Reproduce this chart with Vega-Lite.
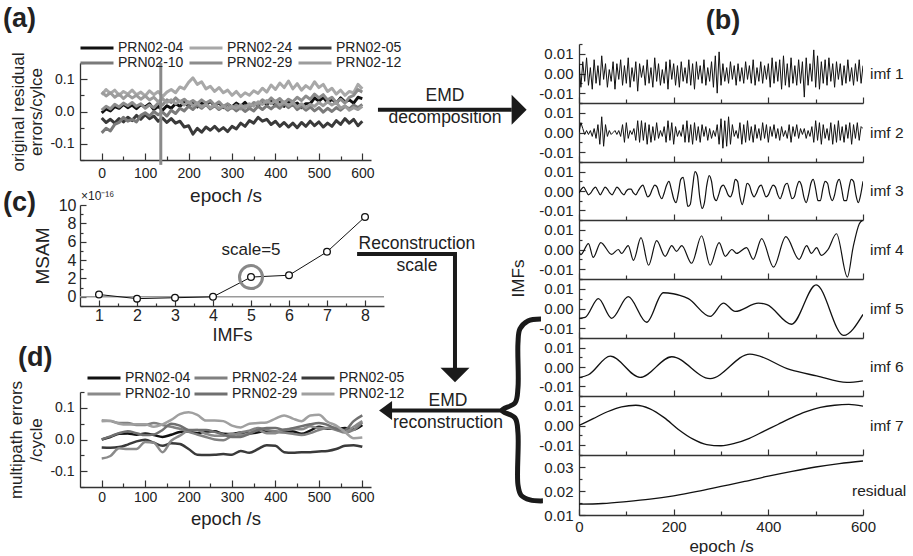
{
"$schema":"https://vega.github.io/schema/vega-lite/v6.json",
"autosize":{"type":"pad"},
"padding":{"left":3,"top":5,"right":0,"bottom":0},
"background":"white",
"config":{
 "font":"Liberation Sans",
 "view":{"stroke":null},
 "axis":{"grid":false,"domainColor":"#333","domainWidth":1.3,"tickColor":"#333","tickWidth":1.2,"labelColor":"#222","titleColor":"#222","titleFontWeight":"normal","labelFlush":false,"labelOverlap":false,"labelFontSize":15},
 "legend":{"labelColor":"#222"},
 "title":{"fontWeight":"bold","fontSize":27,"color":"#222","anchor":"start","frame":"group"},
 "line":{"strokeJoin":"round"}
},
"datasets":{
"a":[
{"s":"04","t":0,"v":-0.004},{"s":"04","t":10,"v":0.008},{"s":"04","t":20,"v":0.002},{"s":"04","t":30,"v":0.015},{"s":"04","t":40,"v":0.01},{"s":"04","t":50,"v":0.022},{"s":"04","t":60,"v":0.012},{"s":"04","t":70,"v":0.02},{"s":"04","t":80,"v":0.009},{"s":"04","t":90,"v":0.021},
{"s":"04","t":100,"v":0.014},{"s":"04","t":110,"v":0.024},{"s":"04","t":120,"v":0.006},{"s":"04","t":130,"v":0.016},{"s":"04","t":140,"v":0.004},{"s":"04","t":150,"v":0.018},{"s":"04","t":160,"v":0.01},{"s":"04","t":170,"v":0.024},{"s":"04","t":180,"v":0.016},{"s":"04","t":190,"v":0.028},
{"s":"04","t":200,"v":0.018},{"s":"04","t":210,"v":0.026},{"s":"04","t":220,"v":0.014},{"s":"04","t":230,"v":0.028},{"s":"04","t":240,"v":0.02},{"s":"04","t":250,"v":0.032},{"s":"04","t":260,"v":0.018},{"s":"04","t":270,"v":0.027},{"s":"04","t":280,"v":0.012},{"s":"04","t":290,"v":0.022},
{"s":"04","t":300,"v":0.014},{"s":"04","t":310,"v":0.026},{"s":"04","t":320,"v":0.016},{"s":"04","t":330,"v":0.028},{"s":"04","t":340,"v":0.014},{"s":"04","t":350,"v":0.025},{"s":"04","t":360,"v":0.018},{"s":"04","t":370,"v":0.032},{"s":"04","t":380,"v":0.022},{"s":"04","t":390,"v":0.034},
{"s":"04","t":400,"v":0.018},{"s":"04","t":410,"v":0.028},{"s":"04","t":420,"v":0.016},{"s":"04","t":430,"v":0.032},{"s":"04","t":440,"v":0.02},{"s":"04","t":450,"v":0.026},{"s":"04","t":460,"v":0.012},{"s":"04","t":470,"v":0.024},{"s":"04","t":480,"v":0.024},{"s":"04","t":490,"v":0.042},
{"s":"04","t":500,"v":0.032},{"s":"04","t":510,"v":0.044},{"s":"04","t":520,"v":0.028},{"s":"04","t":530,"v":0.038},{"s":"04","t":540,"v":0.026},{"s":"04","t":550,"v":0.042},{"s":"04","t":560,"v":0.03},{"s":"04","t":570,"v":0.036},{"s":"04","t":580,"v":0.026},{"s":"04","t":590,"v":0.044},{"s":"04","t":600,"v":0.04},
{"s":"24","t":0,"v":0.052},{"s":"24","t":10,"v":0.068},{"s":"24","t":20,"v":0.056},{"s":"24","t":30,"v":0.066},{"s":"24","t":40,"v":0.05},{"s":"24","t":50,"v":0.062},{"s":"24","t":60,"v":0.054},{"s":"24","t":70,"v":0.066},{"s":"24","t":80,"v":0.052},{"s":"24","t":90,"v":0.06},
{"s":"24","t":100,"v":0.048},{"s":"24","t":110,"v":0.064},{"s":"24","t":120,"v":0.052},{"s":"24","t":130,"v":0.062},{"s":"24","t":140,"v":0.046},{"s":"24","t":150,"v":0.06},{"s":"24","t":160,"v":0.068},{"s":"24","t":170,"v":0.058},{"s":"24","t":180,"v":0.076},{"s":"24","t":190,"v":0.07},
{"s":"24","t":200,"v":0.09},{"s":"24","t":210,"v":0.104},{"s":"24","t":220,"v":0.084},{"s":"24","t":230,"v":0.092},{"s":"24","t":240,"v":0.07},{"s":"24","t":250,"v":0.078},{"s":"24","t":260,"v":0.062},{"s":"24","t":270,"v":0.074},{"s":"24","t":280,"v":0.058},{"s":"24","t":290,"v":0.066},
{"s":"24","t":300,"v":0.05},{"s":"24","t":310,"v":0.062},{"s":"24","t":320,"v":0.046},{"s":"24","t":330,"v":0.058},{"s":"24","t":340,"v":0.05},{"s":"24","t":350,"v":0.064},{"s":"24","t":360,"v":0.056},{"s":"24","t":370,"v":0.072},{"s":"24","t":380,"v":0.06},{"s":"24","t":390,"v":0.082},
{"s":"24","t":400,"v":0.068},{"s":"24","t":410,"v":0.088},{"s":"24","t":420,"v":0.074},{"s":"24","t":430,"v":0.094},{"s":"24","t":440,"v":0.07},{"s":"24","t":450,"v":0.086},{"s":"24","t":460,"v":0.066},{"s":"24","t":470,"v":0.08},{"s":"24","t":480,"v":0.07},{"s":"24","t":490,"v":0.092},
{"s":"24","t":500,"v":0.074},{"s":"24","t":510,"v":0.084},{"s":"24","t":520,"v":0.062},{"s":"24","t":530,"v":0.072},{"s":"24","t":540,"v":0.054},{"s":"24","t":550,"v":0.066},{"s":"24","t":560,"v":0.05},{"s":"24","t":570,"v":0.062},{"s":"24","t":580,"v":0.058},{"s":"24","t":590,"v":0.084},{"s":"24","t":600,"v":0.07},
{"s":"05","t":0,"v":-0.02},{"s":"05","t":10,"v":-0.034},{"s":"05","t":20,"v":-0.024},{"s":"05","t":30,"v":-0.036},{"s":"05","t":40,"v":-0.022},{"s":"05","t":50,"v":-0.032},{"s":"05","t":60,"v":-0.018},{"s":"05","t":70,"v":-0.028},{"s":"05","t":80,"v":-0.012},{"s":"05","t":90,"v":-0.024},
{"s":"05","t":100,"v":-0.01},{"s":"05","t":110,"v":-0.022},{"s":"05","t":120,"v":-0.014},{"s":"05","t":130,"v":-0.03},{"s":"05","t":140,"v":-0.02},{"s":"05","t":150,"v":-0.034},{"s":"05","t":160,"v":-0.022},{"s":"05","t":170,"v":-0.036},{"s":"05","t":180,"v":-0.03},{"s":"05","t":190,"v":-0.048},
{"s":"05","t":200,"v":-0.044},{"s":"05","t":210,"v":-0.07},{"s":"05","t":220,"v":-0.052},{"s":"05","t":230,"v":-0.064},{"s":"05","t":240,"v":-0.048},{"s":"05","t":250,"v":-0.058},{"s":"05","t":260,"v":-0.046},{"s":"05","t":270,"v":-0.06},{"s":"05","t":280,"v":-0.05},{"s":"05","t":290,"v":-0.062},
{"s":"05","t":300,"v":-0.046},{"s":"05","t":310,"v":-0.054},{"s":"05","t":320,"v":-0.036},{"s":"05","t":330,"v":-0.046},{"s":"05","t":340,"v":-0.028},{"s":"05","t":350,"v":-0.036},{"s":"05","t":360,"v":-0.018},{"s":"05","t":370,"v":-0.03},{"s":"05","t":380,"v":-0.024},{"s":"05","t":390,"v":-0.04},
{"s":"05","t":400,"v":-0.03},{"s":"05","t":410,"v":-0.046},{"s":"05","t":420,"v":-0.034},{"s":"05","t":430,"v":-0.048},{"s":"05","t":440,"v":-0.036},{"s":"05","t":450,"v":-0.05},{"s":"05","t":460,"v":-0.034},{"s":"05","t":470,"v":-0.046},{"s":"05","t":480,"v":-0.03},{"s":"05","t":490,"v":-0.044},
{"s":"05","t":500,"v":-0.032},{"s":"05","t":510,"v":-0.048},{"s":"05","t":520,"v":-0.036},{"s":"05","t":530,"v":-0.046},{"s":"05","t":540,"v":-0.028},{"s":"05","t":550,"v":-0.04},{"s":"05","t":560,"v":-0.022},{"s":"05","t":570,"v":-0.036},{"s":"05","t":580,"v":-0.024},{"s":"05","t":590,"v":-0.044},{"s":"05","t":600,"v":-0.03},
{"s":"10","t":0,"v":-0.066},{"s":"10","t":10,"v":-0.052},{"s":"10","t":20,"v":-0.06},{"s":"10","t":30,"v":-0.04},{"s":"10","t":40,"v":-0.034},{"s":"10","t":50,"v":-0.018},{"s":"10","t":60,"v":-0.03},{"s":"10","t":70,"v":-0.024},{"s":"10","t":80,"v":-0.032},{"s":"10","t":90,"v":-0.012},
{"s":"10","t":100,"v":-0.004},{"s":"10","t":110,"v":-0.014},{"s":"10","t":120,"v":0},{"s":"10","t":130,"v":-0.01},{"s":"10","t":140,"v":-0.002},{"s":"10","t":150,"v":-0.014},{"s":"10","t":160,"v":0.004},{"s":"10","t":170,"v":-0.006},{"s":"10","t":180,"v":0.01},{"s":"10","t":190,"v":0.002},
{"s":"10","t":200,"v":0.016},{"s":"10","t":210,"v":0.006},{"s":"10","t":220,"v":0.02},{"s":"10","t":230,"v":0.01},{"s":"10","t":240,"v":0.022},{"s":"10","t":250,"v":0.008},{"s":"10","t":260,"v":0.018},{"s":"10","t":270,"v":0.006},{"s":"10","t":280,"v":0.016},{"s":"10","t":290,"v":0.004},
{"s":"10","t":300,"v":0.014},{"s":"10","t":310,"v":0.002},{"s":"10","t":320,"v":0.012},{"s":"10","t":330,"v":0},{"s":"10","t":340,"v":0.01},{"s":"10","t":350,"v":0.002},{"s":"10","t":360,"v":0.016},{"s":"10","t":370,"v":0.006},{"s":"10","t":380,"v":0.018},{"s":"10","t":390,"v":0.008},
{"s":"10","t":400,"v":0.02},{"s":"10","t":410,"v":0.01},{"s":"10","t":420,"v":0.024},{"s":"10","t":430,"v":0.012},{"s":"10","t":440,"v":0.022},{"s":"10","t":450,"v":0.006},{"s":"10","t":460,"v":0.016},{"s":"10","t":470,"v":0.004},{"s":"10","t":480,"v":0.014},{"s":"10","t":490,"v":0.002},
{"s":"10","t":500,"v":0.012},{"s":"10","t":510,"v":-0.002},{"s":"10","t":520,"v":0.01},{"s":"10","t":530,"v":0},{"s":"10","t":540,"v":0.012},{"s":"10","t":550,"v":0.004},{"s":"10","t":560,"v":0.016},{"s":"10","t":570,"v":0.008},{"s":"10","t":580,"v":0.02},{"s":"10","t":590,"v":0.012},{"s":"10","t":600,"v":0.022},
{"s":"29","t":0,"v":0.004},{"s":"29","t":10,"v":0.016},{"s":"29","t":20,"v":0.008},{"s":"29","t":30,"v":0.022},{"s":"29","t":40,"v":0.014},{"s":"29","t":50,"v":0.026},{"s":"29","t":60,"v":0.018},{"s":"29","t":70,"v":0.028},{"s":"29","t":80,"v":0.016},{"s":"29","t":90,"v":0.024},
{"s":"29","t":100,"v":0.01},{"s":"29","t":110,"v":0.02},{"s":"29","t":120,"v":0.012},{"s":"29","t":130,"v":0.026},{"s":"29","t":140,"v":0.02},{"s":"29","t":150,"v":0.036},{"s":"29","t":160,"v":0.028},{"s":"29","t":170,"v":0.042},{"s":"29","t":180,"v":0.03},{"s":"29","t":190,"v":0.038},
{"s":"29","t":200,"v":0.026},{"s":"29","t":210,"v":0.034},{"s":"29","t":220,"v":0.024},{"s":"29","t":230,"v":0.036},{"s":"29","t":240,"v":0.026},{"s":"29","t":250,"v":0.034},{"s":"29","t":260,"v":0.02},{"s":"29","t":270,"v":0.03},{"s":"29","t":280,"v":0.016},{"s":"29","t":290,"v":0.024},
{"s":"29","t":300,"v":0.01},{"s":"29","t":310,"v":0.02},{"s":"29","t":320,"v":0.008},{"s":"29","t":330,"v":0.018},{"s":"29","t":340,"v":0.014},{"s":"29","t":350,"v":0.028},{"s":"29","t":360,"v":0.022},{"s":"29","t":370,"v":0.036},{"s":"29","t":380,"v":0.028},{"s":"29","t":390,"v":0.042},
{"s":"29","t":400,"v":0.03},{"s":"29","t":410,"v":0.04},{"s":"29","t":420,"v":0.026},{"s":"29","t":430,"v":0.038},{"s":"29","t":440,"v":0.03},{"s":"29","t":450,"v":0.044},{"s":"29","t":460,"v":0.034},{"s":"29","t":470,"v":0.048},{"s":"29","t":480,"v":0.038},{"s":"29","t":490,"v":0.054},
{"s":"29","t":500,"v":0.042},{"s":"29","t":510,"v":0.052},{"s":"29","t":520,"v":0.036},{"s":"29","t":530,"v":0.044},{"s":"29","t":540,"v":0.028},{"s":"29","t":550,"v":0.038},{"s":"29","t":560,"v":0.026},{"s":"29","t":570,"v":0.044},{"s":"29","t":580,"v":0.05},{"s":"29","t":590,"v":0.068},{"s":"29","t":600,"v":0.06},
{"s":"12","t":0,"v":0.06},{"s":"12","t":10,"v":0.048},{"s":"12","t":20,"v":0.058},{"s":"12","t":30,"v":0.044},{"s":"12","t":40,"v":0.054},{"s":"12","t":50,"v":0.04},{"s":"12","t":60,"v":0.052},{"s":"12","t":70,"v":0.042},{"s":"12","t":80,"v":0.05},{"s":"12","t":90,"v":0.038},
{"s":"12","t":100,"v":0.048},{"s":"12","t":110,"v":0.036},{"s":"12","t":120,"v":0.044},{"s":"12","t":130,"v":0.03},{"s":"12","t":140,"v":0.04},{"s":"12","t":150,"v":0.028},{"s":"12","t":160,"v":0.036},{"s":"12","t":170,"v":0.024},{"s":"12","t":180,"v":0.032},{"s":"12","t":190,"v":0.02},
{"s":"12","t":200,"v":0.03},{"s":"12","t":210,"v":0.018},{"s":"12","t":220,"v":0.026},{"s":"12","t":230,"v":0.014},{"s":"12","t":240,"v":0.022},{"s":"12","t":250,"v":0.012},{"s":"12","t":260,"v":0.02},{"s":"12","t":270,"v":0.01},{"s":"12","t":280,"v":0.018},{"s":"12","t":290,"v":0.008},
{"s":"12","t":300,"v":0.016},{"s":"12","t":310,"v":0.01},{"s":"12","t":320,"v":0.02},{"s":"12","t":330,"v":0.012},{"s":"12","t":340,"v":0.024},{"s":"12","t":350,"v":0.016},{"s":"12","t":360,"v":0.03},{"s":"12","t":370,"v":0.022},{"s":"12","t":380,"v":0.034},{"s":"12","t":390,"v":0.024},
{"s":"12","t":400,"v":0.032},{"s":"12","t":410,"v":0.02},{"s":"12","t":420,"v":0.03},{"s":"12","t":430,"v":0.018},{"s":"12","t":440,"v":0.028},{"s":"12","t":450,"v":0.014},{"s":"12","t":460,"v":0.024},{"s":"12","t":470,"v":0.012},{"s":"12","t":480,"v":0.022},{"s":"12","t":490,"v":0.016},
{"s":"12","t":500,"v":0.028},{"s":"12","t":510,"v":0.018},{"s":"12","t":520,"v":0.03},{"s":"12","t":530,"v":0.02},{"s":"12","t":540,"v":0.028},{"s":"12","t":550,"v":0.01},{"s":"12","t":560,"v":0.018},{"s":"12","t":570,"v":0.004},{"s":"12","t":580,"v":0.012},{"s":"12","t":590,"v":0.006},{"s":"12","t":600,"v":0.016}
],
"d":[
{"s":"04","t":0,"v":0},{"s":"04","t":20,"v":0.008},{"s":"04","t":40,"v":0.018},{"s":"04","t":60,"v":0.019},{"s":"04","t":80,"v":0.015},{"s":"04","t":100,"v":0.019},{"s":"04","t":120,"v":0.014},{"s":"04","t":140,"v":0.008},{"s":"04","t":160,"v":0.015},{"s":"04","t":180,"v":0.024},{"s":"04","t":200,"v":0.025},{"s":"04","t":220,"v":0.02},{"s":"04","t":240,"v":0.025},{"s":"04","t":260,"v":0.026},{"s":"04","t":280,"v":0.018},{"s":"04","t":300,"v":0.017},{"s":"04","t":320,"v":0.022},{"s":"04","t":340,"v":0.019},{"s":"04","t":360,"v":0.023},{"s":"04","t":380,"v":0.028},{"s":"04","t":400,"v":0.024},{"s":"04","t":420,"v":0.024},{"s":"04","t":440,"v":0.025},{"s":"04","t":460,"v":0.018},{"s":"04","t":480,"v":0.028},{"s":"04","t":500,"v":0.04},{"s":"04","t":520,"v":0.034},{"s":"04","t":540,"v":0.034},{"s":"04","t":560,"v":0.036},{"s":"04","t":580,"v":0.032},{"s":"04","t":600,"v":0.046},
{"s":"24","t":0,"v":0.06},{"s":"24","t":20,"v":0.058},{"s":"24","t":40,"v":0.052},{"s":"24","t":60,"v":0.052},{"s":"24","t":80,"v":0.046},{"s":"24","t":100,"v":0.046},{"s":"24","t":120,"v":0.052},{"s":"24","t":140,"v":0.046},{"s":"24","t":160,"v":0.04},{"s":"24","t":180,"v":0.034},{"s":"24","t":200,"v":0.024},{"s":"24","t":220,"v":0.016},{"s":"24","t":240,"v":0.008},{"s":"24","t":260,"v":0},{"s":"24","t":280,"v":-0.002},{"s":"24","t":300,"v":0.012},{"s":"24","t":320,"v":0.022},{"s":"24","t":340,"v":0.028},{"s":"24","t":360,"v":0.036},{"s":"24","t":380,"v":0.03},{"s":"24","t":400,"v":0.026},{"s":"24","t":420,"v":0.022},{"s":"24","t":440,"v":0.018},{"s":"24","t":460,"v":0.014},{"s":"24","t":480,"v":0.02},{"s":"24","t":500,"v":0.03},{"s":"24","t":520,"v":0.036},{"s":"24","t":540,"v":0.03},{"s":"24","t":560,"v":0.022},{"s":"24","t":580,"v":0.03},{"s":"24","t":600,"v":0.054},
{"s":"05","t":0,"v":-0.025},{"s":"05","t":20,"v":-0.026},{"s":"05","t":40,"v":-0.024},{"s":"05","t":60,"v":-0.016},{"s":"05","t":80,"v":-0.006},{"s":"05","t":100,"v":-0.001},{"s":"05","t":120,"v":-0.01},{"s":"05","t":140,"v":-0.02},{"s":"05","t":160,"v":-0.012},{"s":"05","t":180,"v":-0.014},{"s":"05","t":200,"v":-0.03},{"s":"05","t":220,"v":-0.048},{"s":"05","t":240,"v":-0.049},{"s":"05","t":260,"v":-0.048},{"s":"05","t":280,"v":-0.046},{"s":"05","t":300,"v":-0.048},{"s":"05","t":320,"v":-0.036},{"s":"05","t":340,"v":-0.042},{"s":"05","t":360,"v":-0.03},{"s":"05","t":380,"v":-0.018},{"s":"05","t":400,"v":-0.02},{"s":"05","t":420,"v":-0.04},{"s":"05","t":440,"v":-0.042},{"s":"05","t":460,"v":-0.04},{"s":"05","t":480,"v":-0.04},{"s":"05","t":500,"v":-0.038},{"s":"05","t":520,"v":-0.036},{"s":"05","t":540,"v":-0.03},{"s":"05","t":560,"v":-0.02},{"s":"05","t":580,"v":-0.018},{"s":"05","t":600,"v":-0.023},
{"s":"10","t":0,"v":-0.06},{"s":"10","t":20,"v":-0.052},{"s":"10","t":40,"v":-0.028},{"s":"10","t":60,"v":-0.03},{"s":"10","t":80,"v":-0.03},{"s":"10","t":100,"v":-0.008},{"s":"10","t":120,"v":-0.01},{"s":"10","t":140,"v":-0.04},{"s":"10","t":160,"v":-0.004},{"s":"10","t":180,"v":0.012},{"s":"10","t":200,"v":0.028},{"s":"10","t":220,"v":0.03},{"s":"10","t":240,"v":0.018},{"s":"10","t":260,"v":0.012},{"s":"10","t":280,"v":0.012},{"s":"10","t":300,"v":0.018},{"s":"10","t":320,"v":0.014},{"s":"10","t":340,"v":0.02},{"s":"10","t":360,"v":0.03},{"s":"10","t":380,"v":0.02},{"s":"10","t":400,"v":0.02},{"s":"10","t":420,"v":0.032},{"s":"10","t":440,"v":0.034},{"s":"10","t":460,"v":0.032},{"s":"10","t":480,"v":0.042},{"s":"10","t":500,"v":0.036},{"s":"10","t":520,"v":0.036},{"s":"10","t":540,"v":0.038},{"s":"10","t":560,"v":0.024},{"s":"10","t":580,"v":0.04},{"s":"10","t":600,"v":0.058},
{"s":"29","t":0,"v":0},{"s":"29","t":20,"v":0.01},{"s":"29","t":40,"v":0.02},{"s":"29","t":60,"v":0.026},{"s":"29","t":80,"v":0.02},{"s":"29","t":100,"v":0.014},{"s":"29","t":120,"v":0.016},{"s":"29","t":140,"v":0.03},{"s":"29","t":160,"v":0.05},{"s":"29","t":180,"v":0.044},{"s":"29","t":200,"v":0.03},{"s":"29","t":220,"v":0.03},{"s":"29","t":240,"v":0.03},{"s":"29","t":260,"v":0.024},{"s":"29","t":280,"v":0.016},{"s":"29","t":300,"v":0.008},{"s":"29","t":320,"v":0.008},{"s":"29","t":340,"v":0.018},{"s":"29","t":360,"v":0.03},{"s":"29","t":380,"v":0.036},{"s":"29","t":400,"v":0.036},{"s":"29","t":420,"v":0.03},{"s":"29","t":440,"v":0.036},{"s":"29","t":460,"v":0.042},{"s":"29","t":480,"v":0.048},{"s":"29","t":500,"v":0.052},{"s":"29","t":520,"v":0.046},{"s":"29","t":540,"v":0.034},{"s":"29","t":560,"v":0.03},{"s":"29","t":580,"v":0.058},{"s":"29","t":600,"v":0.076},
{"s":"12","t":0,"v":0.058},{"s":"12","t":20,"v":0.059},{"s":"12","t":40,"v":0.05},{"s":"12","t":60,"v":0.047},{"s":"12","t":80,"v":0.048},{"s":"12","t":100,"v":0.048},{"s":"12","t":120,"v":0.04},{"s":"12","t":140,"v":0.048},{"s":"12","t":160,"v":0.062},{"s":"12","t":180,"v":0.08},{"s":"12","t":200,"v":0.086},{"s":"12","t":220,"v":0.078},{"s":"12","t":240,"v":0.06},{"s":"12","t":260,"v":0.06},{"s":"12","t":280,"v":0.058},{"s":"12","t":300,"v":0.044},{"s":"12","t":320,"v":0.038},{"s":"12","t":340,"v":0.05},{"s":"12","t":360,"v":0.052},{"s":"12","t":380,"v":0.054},{"s":"12","t":400,"v":0.066},{"s":"12","t":420,"v":0.076},{"s":"12","t":440,"v":0.066},{"s":"12","t":460,"v":0.058},{"s":"12","t":480,"v":0.076},{"s":"12","t":500,"v":0.078},{"s":"12","t":520,"v":0.056},{"s":"12","t":540,"v":0.044},{"s":"12","t":560,"v":0.024},{"s":"12","t":580,"v":0.004},{"s":"12","t":600,"v":0.006}
],
"c":[{"k":1,"m":0.25},{"k":2,"m":-0.2},{"k":3,"m":-0.1},{"k":4,"m":0},{"k":5,"m":2.15},{"k":6,"m":2.35},{"k":7,"m":4.9},{"k":8,"m":8.7}],
"i1":[
{"t":0,"v":0.005},{"t":4,"v":-0.007},{"t":8,"v":0.006},{"t":12,"v":-0.004},{"t":16,"v":0.008},{"t":20,"v":-0.006},{"t":24,"v":0.003},{"t":28,"v":-0.008},{"t":32,"v":0.007},{"t":36,"v":-0.005},
{"t":40,"v":0.004},{"t":44,"v":-0.006},{"t":48,"v":0.009},{"t":52,"v":-0.003},{"t":56,"v":0.005},{"t":60,"v":-0.007},{"t":64,"v":0.002},{"t":68,"v":-0.004},{"t":72,"v":0.006},{"t":76,"v":-0.008},
{"t":80,"v":0.005},{"t":84,"v":-0.003},{"t":88,"v":0.007},{"t":92,"v":-0.006},{"t":96,"v":0.004},{"t":100,"v":-0.005},{"t":104,"v":0.008},{"t":108,"v":-0.007},{"t":112,"v":0.003},{"t":116,"v":-0.004},
{"t":120,"v":0.006},{"t":124,"v":-0.009},{"t":128,"v":0.005},{"t":132,"v":-0.002},{"t":136,"v":0.004},{"t":140,"v":-0.006},{"t":144,"v":0.007},{"t":148,"v":-0.005},{"t":152,"v":0.003},{"t":156,"v":-0.007},
{"t":160,"v":0.008},{"t":164,"v":-0.004},{"t":168,"v":0.005},{"t":172,"v":-0.006},{"t":176,"v":0.002},{"t":180,"v":-0.005},{"t":184,"v":0.006},{"t":188,"v":-0.008},{"t":192,"v":0.007},{"t":196,"v":-0.003},
{"t":200,"v":0.005},{"t":204,"v":-0.006},{"t":208,"v":0.004},{"t":212,"v":-0.007},{"t":216,"v":0.006},{"t":220,"v":-0.004},{"t":224,"v":0.003},{"t":228,"v":-0.005},{"t":232,"v":0.007},{"t":236,"v":-0.006},
{"t":240,"v":0.005},{"t":244,"v":-0.008},{"t":248,"v":0.006},{"t":252,"v":-0.003},{"t":256,"v":0.004},{"t":260,"v":-0.005},{"t":264,"v":0.007},{"t":268,"v":-0.006},{"t":272,"v":0.003},{"t":276,"v":-0.004},
{"t":280,"v":0.006},{"t":284,"v":-0.007},{"t":288,"v":0.009},{"t":292,"v":-0.01},{"t":296,"v":0.011},{"t":300,"v":-0.006},{"t":304,"v":0.005},{"t":308,"v":-0.004},{"t":312,"v":0.003},{"t":316,"v":-0.005},
{"t":320,"v":0.006},{"t":324,"v":-0.003},{"t":328,"v":0.004},{"t":332,"v":-0.006},{"t":336,"v":0.005},{"t":340,"v":-0.004},{"t":344,"v":0.003},{"t":348,"v":-0.005},{"t":352,"v":0.006},{"t":356,"v":-0.003},
{"t":360,"v":0.004},{"t":364,"v":-0.005},{"t":368,"v":0.007},{"t":372,"v":-0.006},{"t":376,"v":0.003},{"t":380,"v":-0.004},{"t":384,"v":0.006},{"t":388,"v":-0.005},{"t":392,"v":0.004},{"t":396,"v":-0.003},
{"t":400,"v":0.005},{"t":404,"v":-0.007},{"t":408,"v":0.008},{"t":412,"v":-0.005},{"t":416,"v":0.006},{"t":420,"v":-0.004},{"t":424,"v":0.007},{"t":428,"v":-0.008},{"t":432,"v":0.009},{"t":436,"v":-0.006},
{"t":440,"v":0.005},{"t":444,"v":-0.007},{"t":448,"v":0.008},{"t":452,"v":-0.005},{"t":456,"v":0.004},{"t":460,"v":-0.006},{"t":464,"v":0.007},{"t":468,"v":-0.005},{"t":472,"v":0.006},{"t":476,"v":-0.012},
{"t":480,"v":0.008},{"t":484,"v":-0.006},{"t":488,"v":0.005},{"t":492,"v":-0.004},{"t":496,"v":0.012},{"t":500,"v":-0.007},{"t":504,"v":0.009},{"t":508,"v":-0.008},{"t":512,"v":0.006},{"t":516,"v":-0.005},
{"t":520,"v":0.007},{"t":524,"v":-0.006},{"t":528,"v":0.008},{"t":532,"v":-0.004},{"t":536,"v":0.005},{"t":540,"v":-0.007},{"t":544,"v":0.006},{"t":548,"v":-0.003},{"t":552,"v":0.005},{"t":556,"v":-0.006},
{"t":560,"v":0.004},{"t":564,"v":-0.005},{"t":568,"v":0.007},{"t":572,"v":-0.004},{"t":576,"v":0.003},{"t":580,"v":-0.006},{"t":584,"v":0.005},{"t":588,"v":-0.004},{"t":592,"v":0.007},{"t":596,"v":-0.005},{"t":600,"v":0.004}
],
"i2":[
{"t":0,"v":0},{"t":4,"v":0.005},{"t":8,"v":0.002},{"t":12,"v":-0.001},{"t":16,"v":0.001},{"t":20,"v":-0.001},{"t":24,"v":0.001},{"t":28,"v":-0.002},{"t":32,"v":0.002},{"t":36,"v":-0.003},
{"t":40,"v":0.004},{"t":44,"v":-0.006},{"t":48,"v":0.008},{"t":52,"v":-0.007},{"t":56,"v":0.004},{"t":60,"v":-0.002},{"t":64,"v":0.001},{"t":68,"v":-0.001},{"t":72,"v":0},{"t":76,"v":0.001},
{"t":80,"v":-0.001},{"t":84,"v":0.001},{"t":88,"v":-0.002},{"t":92,"v":0.004},{"t":96,"v":-0.005},{"t":100,"v":0.005},{"t":104,"v":-0.003},{"t":108,"v":0.001},{"t":112,"v":-0.001},{"t":116,"v":0.002},
{"t":120,"v":-0.004},{"t":124,"v":0.006},{"t":128,"v":-0.005},{"t":132,"v":0.006},{"t":136,"v":-0.004},{"t":140,"v":0.005},{"t":144,"v":-0.006},{"t":148,"v":0.004},{"t":152,"v":-0.005},{"t":156,"v":0.003},
{"t":160,"v":-0.004},{"t":164,"v":0.005},{"t":168,"v":-0.003},{"t":172,"v":0.001},{"t":176,"v":-0.002},{"t":180,"v":0.003},{"t":184,"v":-0.005},{"t":188,"v":0.006},{"t":192,"v":-0.004},{"t":196,"v":0.005},
{"t":200,"v":-0.006},{"t":204,"v":0.003},{"t":208,"v":-0.002},{"t":212,"v":0.001},{"t":216,"v":-0.002},{"t":220,"v":0.004},{"t":224,"v":-0.005},{"t":228,"v":0.006},{"t":232,"v":-0.005},{"t":236,"v":0.004},
{"t":240,"v":-0.006},{"t":244,"v":0.005},{"t":248,"v":-0.004},{"t":252,"v":0.003},{"t":256,"v":-0.005},{"t":260,"v":0.004},{"t":264,"v":-0.002},{"t":268,"v":0.003},{"t":272,"v":-0.004},{"t":276,"v":0.002},
{"t":280,"v":-0.003},{"t":284,"v":0.001},{"t":288,"v":-0.002},{"t":292,"v":0.004},{"t":296,"v":-0.006},{"t":300,"v":0.007},{"t":304,"v":-0.008},{"t":308,"v":0.006},{"t":312,"v":-0.007},{"t":316,"v":0.008},
{"t":320,"v":-0.006},{"t":324,"v":0.004},{"t":328,"v":-0.002},{"t":332,"v":0.001},{"t":336,"v":-0.003},{"t":340,"v":0.005},{"t":344,"v":-0.006},{"t":348,"v":0.004},{"t":352,"v":-0.005},{"t":356,"v":0.006},
{"t":360,"v":-0.004},{"t":364,"v":0.003},{"t":368,"v":-0.005},{"t":372,"v":0.004},{"t":376,"v":-0.003},{"t":380,"v":0.002},{"t":384,"v":-0.004},{"t":388,"v":0.005},{"t":392,"v":-0.003},{"t":396,"v":0.004},
{"t":400,"v":-0.005},{"t":404,"v":0.003},{"t":408,"v":-0.002},{"t":412,"v":0.004},{"t":416,"v":-0.003},{"t":420,"v":0.002},{"t":424,"v":-0.004},{"t":428,"v":0.003},{"t":432,"v":-0.002},{"t":436,"v":0.001},
{"t":440,"v":-0.003},{"t":444,"v":0.004},{"t":448,"v":-0.005},{"t":452,"v":0.003},{"t":456,"v":-0.002},{"t":460,"v":0.004},{"t":464,"v":-0.003},{"t":468,"v":0.002},{"t":472,"v":-0.001},{"t":476,"v":0.002},
{"t":480,"v":-0.003},{"t":484,"v":0.001},{"t":488,"v":-0.002},{"t":492,"v":0.003},{"t":496,"v":-0.005},{"t":500,"v":0.006},{"t":504,"v":-0.004},{"t":508,"v":0.005},{"t":512,"v":-0.006},{"t":516,"v":0.004},
{"t":520,"v":-0.003},{"t":524,"v":0.002},{"t":528,"v":-0.004},{"t":532,"v":0.005},{"t":536,"v":-0.006},{"t":540,"v":0.004},{"t":544,"v":-0.005},{"t":548,"v":0.006},{"t":552,"v":-0.004},{"t":556,"v":0.003},
{"t":560,"v":-0.005},{"t":564,"v":0.004},{"t":568,"v":-0.003},{"t":572,"v":0.005},{"t":576,"v":-0.006},{"t":580,"v":0.004},{"t":584,"v":-0.003},{"t":588,"v":0.005},{"t":592,"v":-0.004},{"t":596,"v":0.003},{"t":600,"v":0.002}
],
"i3":[
{"t":0,"v":-0.001},{"t":5,"v":0.001},{"t":10,"v":0.002},{"t":15,"v":0},{"t":20,"v":-0.002},{"t":25,"v":-0.001},{"t":30,"v":0.001},{"t":35,"v":0.002},{"t":40,"v":0},{"t":45,"v":-0.002},
{"t":50,"v":0},{"t":55,"v":0.002},{"t":60,"v":0.001},{"t":65,"v":-0.001},{"t":70,"v":-0.002},{"t":75,"v":0},{"t":80,"v":0.002},{"t":85,"v":0.001},{"t":90,"v":-0.001},{"t":95,"v":-0.002},
{"t":100,"v":0},{"t":105,"v":0.001},{"t":110,"v":0.001},{"t":115,"v":-0.001},{"t":120,"v":-0.002},{"t":125,"v":0},{"t":130,"v":0.002},{"t":135,"v":0.003},{"t":140,"v":0},{"t":145,"v":-0.003},
{"t":150,"v":-0.002},{"t":155,"v":0.001},{"t":160,"v":0.003},{"t":165,"v":0.002},{"t":170,"v":-0.002},{"t":175,"v":-0.004},{"t":180,"v":-0.001},{"t":185,"v":0.003},{"t":190,"v":0.005},{"t":195,"v":0.001},
{"t":200,"v":-0.004},{"t":205,"v":-0.006},{"t":210,"v":-0.001},{"t":215,"v":0.006},{"t":220,"v":0.007},{"t":225,"v":0},{"t":230,"v":-0.008},{"t":235,"v":-0.007},{"t":240,"v":0.002},{"t":245,"v":0.01},
{"t":250,"v":0.008},{"t":255,"v":-0.003},{"t":260,"v":-0.009},{"t":265,"v":-0.006},{"t":270,"v":0.003},{"t":275,"v":0.008},{"t":280,"v":0.005},{"t":285,"v":-0.003},{"t":290,"v":-0.005},{"t":295,"v":-0.002},
{"t":300,"v":0.002},{"t":305,"v":0.003},{"t":310,"v":0.001},{"t":315,"v":-0.002},{"t":320,"v":-0.003},{"t":325,"v":0},{"t":330,"v":0.006},{"t":335,"v":0.005},{"t":340,"v":-0.003},{"t":345,"v":-0.007},
{"t":350,"v":-0.002},{"t":355,"v":0.004},{"t":360,"v":0.003},{"t":365,"v":-0.001},{"t":370,"v":-0.003},{"t":375,"v":-0.001},{"t":380,"v":0.002},{"t":385,"v":0.003},{"t":390,"v":0},{"t":395,"v":-0.003},
{"t":400,"v":-0.002},{"t":405,"v":0.001},{"t":410,"v":0.003},{"t":415,"v":0.002},{"t":420,"v":-0.002},{"t":425,"v":-0.004},{"t":430,"v":-0.001},{"t":435,"v":0.003},{"t":440,"v":0.004},{"t":445,"v":0},
{"t":450,"v":-0.004},{"t":455,"v":-0.003},{"t":460,"v":0.002},{"t":465,"v":0.005},{"t":470,"v":0.003},{"t":475,"v":-0.003},{"t":480,"v":-0.006},{"t":485,"v":-0.002},{"t":490,"v":0.004},{"t":495,"v":0.006},
{"t":500,"v":0.001},{"t":505,"v":-0.005},{"t":510,"v":-0.005},{"t":515,"v":0.001},{"t":520,"v":0.005},{"t":525,"v":0.004},{"t":530,"v":-0.002},{"t":535,"v":-0.005},{"t":540,"v":-0.002},{"t":545,"v":0.004},
{"t":550,"v":0.006},{"t":555,"v":0.001},{"t":560,"v":-0.005},{"t":565,"v":-0.005},{"t":570,"v":0.001},{"t":575,"v":0.006},{"t":580,"v":0.005},{"t":585,"v":-0.002},{"t":590,"v":-0.006},{"t":595,"v":-0.002},{"t":600,"v":0.005}
],
"i4":[{"t":0,"v":-0.001},{"t":4,"v":-0.0026},{"t":20,"v":0.003},{"t":30,"v":-0.004},{"t":46,"v":0.0035},{"t":69,"v":-0.0025},{"t":83,"v":0},{"t":90,"v":-0.002},{"t":104,"v":0.002},{"t":115,"v":-0.0055},{"t":131,"v":0.006},{"t":147,"v":-0.008},{"t":164,"v":0.0045},{"t":182,"v":-0.0035},{"t":196,"v":0.002},{"t":206,"v":-0.001},{"t":217,"v":0.002},{"t":238,"v":-0.007},{"t":259,"v":0.007},{"t":277,"v":-0.008},{"t":296,"v":0.0035},{"t":309,"v":-0.0035},{"t":323,"v":0},{"t":333,"v":-0.002},{"t":354,"v":0.001},{"t":368,"v":-0.005},{"t":386,"v":0.0055},{"t":411,"v":-0.009},{"t":437,"v":0.0065},{"t":465,"v":-0.005},{"t":481,"v":0.002},{"t":491,"v":-0.002},{"t":502,"v":0.001},{"t":512,"v":-0.003},{"t":526,"v":0},{"t":544,"v":0.008},{"t":567,"v":-0.014},{"t":579,"v":0.001},{"t":592,"v":0.013},{"t":600,"v":0.015}],
"i5":[{"t":0,"v":-0.005},{"t":13,"v":-0.0045},{"t":41,"v":0.005},{"t":69,"v":-0.005},{"t":104,"v":0.006},{"t":143,"v":-0.007},{"t":178,"v":0.008},{"t":199,"v":0.0075},{"t":213,"v":0.0067},{"t":231,"v":0.005},{"t":277,"v":-0.004},{"t":305,"v":0.0027},{"t":330,"v":-0.0015},{"t":379,"v":0.0027},{"t":397,"v":0.002},{"t":449,"v":-0.008},{"t":501,"v":0.012},{"t":559,"v":-0.0137},{"t":600,"v":-0.003}],
"i6":[{"t":0,"v":-0.0055},{"t":20,"v":-0.004},{"t":66,"v":0.0056},{"t":129,"v":-0.0054},{"t":196,"v":0.0053},{"t":277,"v":-0.006},{"t":361,"v":0.0067},{"t":446,"v":-0.0014},{"t":502,"v":-0.0046},{"t":566,"v":-0.008},{"t":600,"v":-0.0072}],
"i7":[{"t":0,"v":0},{"t":30,"v":0.0035},{"t":60,"v":0.007},{"t":90,"v":0.0095},{"t":120,"v":0.0103},{"t":150,"v":0.0085},{"t":180,"v":0.004},{"t":210,"v":-0.002},{"t":240,"v":-0.0068},{"t":270,"v":-0.0097},{"t":300,"v":-0.0103},{"t":330,"v":-0.009},{"t":360,"v":-0.0065},{"t":390,"v":-0.003},{"t":420,"v":0.0005},{"t":450,"v":0.004},{"t":480,"v":0.007},{"t":510,"v":0.0092},{"t":540,"v":0.0103},{"t":570,"v":0.0107},{"t":600,"v":0.0098}],
"res":[{"t":0,"v":0.0145},{"t":50,"v":0.0148},{"t":100,"v":0.0156},{"t":150,"v":0.0166},{"t":200,"v":0.018},{"t":250,"v":0.0198},{"t":300,"v":0.0219},{"t":350,"v":0.024},{"t":400,"v":0.0262},{"t":450,"v":0.0282},{"t":500,"v":0.03},{"t":550,"v":0.0314},{"t":600,"v":0.0325}],
"arrows":[{"g":"dec","i":0,"u":-3.1,"v":13.95},{"g":"dec","i":1,"u":65.5,"v":13.95},{"g":"rec","i":0,"u":-13.8,"v":44.6},{"g":"rec","i":1,"u":36.4,"v":44.6},{"g":"rec","i":2,"u":36.4,"v":68.8},{"g":"out","i":0,"u":60.5,"v":77.8},{"g":"out","i":1,"u":3.1,"v":77.8}],
"brace":[{"i":0,"u":80.5,"v":58.4},{"i":1,"u":73.8,"v":58.8},{"i":2,"u":69.7,"v":60.5},{"i":3,"u":68.7,"v":63.5},{"i":4,"u":68.7,"v":73.0},{"i":5,"u":67.2,"v":76.2},{"i":6,"u":60.5,"v":77.8},{"i":7,"u":67.2,"v":79.4},{"i":8,"u":68.7,"v":82.6},{"i":9,"u":68.7,"v":93.6},{"i":10,"u":70.3,"v":95.8},{"i":11,"u":74.9,"v":96.8},{"i":12,"u":81.5,"v":97.0}],
"labels":[{"u":31.3,"v":11.1,"txt":"EMD"},{"u":31.3,"v":15.7,"txt":"decomposition"},{"u":16.9,"v":42.5,"txt":"Reconstruction"},{"u":16.9,"v":47.1,"txt":"scale"},{"u":32.8,"v":75.8,"txt":"EMD"},{"u":32.8,"v":80.5,"txt":"reconstruction"}]
},
"spacing":-1000,
"resolve":{"scale":{"color":"independent"},"legend":{"color":"independent"}},
"hconcat":[
{
 "spacing":0,"bounds":"flush",
 "resolve":{"scale":{"color":"independent"},"legend":{"color":"independent"}},
 "vconcat":[
  {"width":1,"height":19,"data":{"values":[{}]},"mark":{"type":"point","opacity":0,"size":1}},
  {
   "width":291,"height":97,
   "title":{"text":"(a)","dx":-77,"offset":8},
   "encoding":{
    "x":{"field":"t","type":"quantitative","scale":{"domain":[-50,620],"nice":false,"zero":false},
      "axis":{"values":[0,50,100,150,200,250,300,350,400,450,500,550,600],"labelExpr":"datum.value % 100 === 0 ? datum.label : ''","tickSize":{"condition":{"test":"datum.value % 100 !== 0","value":-4},"value":-7},"labelPadding":13,"labelFontSize":14,"title":"epoch /s","titleFontSize":19,"titlePadding":3}},
    "y":{"field":"v","type":"quantitative","scale":{"domain":[-0.15,0.15],"nice":false,"zero":false},
      "axis":{"values":[-0.15,-0.1,-0.05,0,0.05,0.1,0.15],"labelExpr":"abs(round(datum.value*100)) % 10 === 0 ? replace(format(datum.value,'.1f'),'−','-') : ''","tickSize":{"condition":{"test":"abs(round(datum.value*100)) % 10 !== 0","value":-4},"value":-7},"labelPadding":13,"labelFontSize":14,"title":["original residual","errors/cylce"],"titleFontSize":17,"titleLineHeight":18,"titlePadding":4}}
   },
   "layer":[
    {"data":{"name":"a"},"mark":{"type":"line","strokeWidth":3,"clip":true},
     "encoding":{
      "color":{"field":"s","type":"nominal","scale":{"domain":["04","24","05","10","29","12"],"range":["#111111","#a8a8a8","#3a3a3a","#7a7a7a","#8c8c8c","#9c9c9c"]},
        "legend":{"orient":"none","legendX":10,"legendY":-22,"direction":"horizontal","columns":3,"title":null,"symbolType":"M-3,0H3","symbolSize":121,"symbolStrokeWidth":3,"labelFontSize":14,"labelOffset":14,"columnPadding":4,"rowPadding":1,"labelExpr":"'PRN02-' + datum.label"}}
     }},
    {"data":{"values":[{"t":136,"v":-0.165},{"t":136,"v":0.15}]},"mark":{"type":"line","color":"#8a8a8a","strokeWidth":3}}
   ]
  },
  {"width":1,"height":45,"data":{"values":[{}]},"mark":{"type":"point","opacity":0,"size":1}},
  {
   "width":304,"height":101,
   "title":{"text":"(c)","dx":-77,"dy":31},
   "encoding":{
    "x":{"field":"k","type":"quantitative","scale":{"domain":[0.5,8.5],"nice":false,"zero":false},
      "axis":{"values":[1,1.5,2,2.5,3,3.5,4,4.5,5,5.5,6,6.5,7,7.5,8],"labelExpr":"datum.value % 1 === 0 ? format(datum.value,'d') : ''","tickSize":{"condition":{"test":"datum.value % 1 !== 0","value":-3},"value":-6},"labelPadding":7,"labelFontSize":16,"title":"IMFs","titleFontSize":18,"titlePadding":0}},
    "y":{"field":"m","type":"quantitative","scale":{"domain":[-1,10],"nice":false,"zero":false},
      "axis":{"values":[-1,0,1,2,3,4,5,6,7,8,9,10],"labelExpr":"datum.value >= 0 && datum.value % 2 === 0 ? datum.label : ''","tickSize":{"condition":{"test":"datum.value % 2 !== 0","value":-3},"value":-6},"labelPadding":10,"labelFontSize":16,"title":"MSAM","titleFontSize":19,"titlePadding":6}}
   },
   "layer":[
    {"data":{"values":[{"k":0.5,"m":0},{"k":8.5,"m":0}]},"mark":{"type":"line","color":"#9a9a9a","strokeWidth":1.5}},
    {"data":{"name":"c"},"mark":{"type":"line","color":"#111","strokeWidth":1}},
    {"data":{"name":"c"},"mark":{"type":"point","shape":"circle","filled":true,"fill":"white","stroke":"#111","strokeWidth":1.3,"size":45,"opacity":1}},
    {"data":{"name":"c"},"transform":[{"filter":"datum.k === 5"}],"mark":{"type":"point","shape":"circle","filled":false,"stroke":"#888","strokeWidth":3,"size":530,"opacity":1}},
    {"data":{"values":[{"k":5,"m":5.1,"lab":"scale=5"}]},"mark":{"type":"text","fontSize":17,"color":"#222"},"encoding":{"text":{"field":"lab"}}},
    {"data":{"values":[{"k":0.5,"m":10,"lab":"×10⁻¹⁶"}]},"mark":{"type":"text","fontSize":12,"align":"left","baseline":"bottom","dx":1,"dy":-2,"color":"#222"},"encoding":{"text":{"field":"lab"}}},
    {"data":{"values":[{"k":9.434,"m":5}]},"mark":{"type":"point","size":1,"filled":true,"opacity":0}}
   ]
  },
  {"width":1,"height":86,"data":{"values":[{}]},"mark":{"type":"point","opacity":0,"size":1}},
  {
   "width":291,"height":95,
   "title":{"text":"(d)","dx":-62,"offset":-1},
   "layer":[
    {"data":{"name":"d"},"mark":{"type":"line","strokeWidth":2.5,"interpolate":"monotone","clip":true},
     "encoding":{
      "x":{"field":"t","type":"quantitative","scale":{"domain":[-50,620],"nice":false,"zero":false},
        "axis":{"values":[0,50,100,150,200,250,300,350,400,450,500,550,600],"labelExpr":"datum.value % 100 === 0 ? datum.label : ''","tickSize":{"condition":{"test":"datum.value % 100 !== 0","value":-4},"value":-7},"labelPadding":10,"labelFontSize":14,"title":"epoch /s","titleFontSize":18.5,"titlePadding":2}},
      "y":{"field":"v","type":"quantitative","scale":{"domain":[-0.15,0.15],"nice":false,"zero":false},
        "axis":{"values":[-0.15,-0.1,-0.05,0,0.05,0.1,0.15],"labelExpr":"abs(round(datum.value*100)) % 10 === 0 ? replace(format(datum.value,'.1f'),'−','-') : ''","tickSize":{"condition":{"test":"abs(round(datum.value*100)) % 10 !== 0","value":-4},"value":-7},"labelPadding":13,"labelFontSize":14,"title":["multipath errors","/cycle"],"titleFontSize":17,"titleLineHeight":20,"titlePadding":4}},
      "color":{"field":"s","type":"nominal","scale":{"domain":["04","24","05","10","29","12"],"range":["#111111","#808080","#3a3a3a","#8a8a8a","#707070","#a0a0a0"]},
        "legend":{"orient":"none","legendX":17,"legendY":-21,"direction":"horizontal","columns":3,"title":null,"symbolType":"M-3,0H3","symbolSize":121,"symbolStrokeWidth":3,"labelFontSize":14,"labelOffset":14,"columnPadding":2,"rowPadding":2,"labelExpr":"'PRN02-' + datum.label"}}
     }}
   ]
  }
 ]
},
{
 "width":159,"height":471,
 "encoding":{
  "x":{"field":"u","type":"quantitative","scale":{"domain":[18.46,100],"nice":false,"zero":false},"axis":null},
  "y":{"field":"v","type":"quantitative","scale":{"domain":[0,100],"nice":false,"zero":false,"reverse":true},"axis":null}
 },
 "layer":[
  {"data":{"name":"arrows"},"mark":{"type":"line","color":"#1a1a1a","strokeWidth":4,"strokeJoin":"miter","strokeCap":"butt"},"encoding":{"detail":{"field":"g"},"order":{"field":"i"}}},
  {"data":{"name":"brace"},"mark":{"type":"line","color":"#1a1a1a","strokeWidth":5,"interpolate":"catmull-rom","strokeCap":"butt"},"encoding":{"order":{"field":"i"}}},
  {"data":{"values":[{"u":69.3,"v":13.95}]},"mark":{"type":"point","shape":"M-1,-2L1,0L-1,2Z","size":225,"filled":true,"color":"#1a1a1a","opacity":1}},
  {"data":{"values":[{"u":36.4,"v":70.3}]},"mark":{"type":"point","shape":"M-2,-1L2,-1L0,1Z","size":210,"filled":true,"color":"#1a1a1a","opacity":1}},
  {"data":{"values":[{"u":0.8,"v":77.8}]},"mark":{"type":"point","shape":"M1,-1.46L-1,0L1,1.46Z","size":169,"filled":true,"color":"#1a1a1a","opacity":1}},
  {"data":{"name":"labels"},"mark":{"type":"text","fontSize":17.5,"color":"#222","baseline":"middle"},"encoding":{"text":{"field":"txt"}}},
  {"data":{"values":[{"u":99.74,"v":50}]},"mark":{"type":"point","size":1,"filled":true,"opacity":0}}
 ]
},
{
 "spacing":0,"bounds":"flush",
 "vconcat":[
  {"width":284,"height":59,"title":{"text":"(b)","anchor":"middle","dx":2,"offset":2},
   "encoding":{
    "x":{"field":"t","type":"quantitative","scale":{"domain":[0,600],"nice":false},"axis":{"values":[0,100,200,300,400,500,600],"labels":false,"title":null,"tickSize":{"condition":{"test":"datum.value % 200 !== 0","value":-4},"value":-6}}},
    "y":{"field":"v","type":"quantitative","scale":{"domain":[-0.015,0.015],"nice":false,"zero":false},"axis":{"values":[-0.015,-0.01,-0.005,0,0.005,0.01,0.015],"labelExpr":"abs(round(datum.value*1000)) % 10 === 0 ? replace(format(datum.value,'.2f'),'−','-') : ''","tickSize":{"condition":{"test":"abs(round(datum.value*1000)) % 10 !== 0","value":-3},"value":-6},"labelPadding":12,"title":null}}},
   "layer":[
    {"data":{"name":"i1"},"mark":{"type":"line","color":"#111","strokeWidth":1,"clip":true}},
    {"data":{"values":[{"t":600,"v":0,"lab":"imf 1"}]},"mark":{"type":"text","align":"left","baseline":"middle","dx":7,"fontSize":15.5,"color":"#222"},"encoding":{"text":{"field":"lab"}}}
   ]},
  {"width":284,"height":59,
   "encoding":{
    "x":{"field":"t","type":"quantitative","scale":{"domain":[0,600],"nice":false},"axis":{"values":[0,100,200,300,400,500,600],"labels":false,"title":null,"tickSize":{"condition":{"test":"datum.value % 200 !== 0","value":-4},"value":-6}}},
    "y":{"field":"v","type":"quantitative","scale":{"domain":[-0.015,0.015],"nice":false,"zero":false},"axis":{"values":[-0.015,-0.01,-0.005,0,0.005,0.01,0.015],"labelExpr":"abs(round(datum.value*1000)) % 10 === 0 ? replace(format(datum.value,'.2f'),'−','-') : ''","tickSize":{"condition":{"test":"abs(round(datum.value*1000)) % 10 !== 0","value":-3},"value":-6},"labelPadding":12,"title":null}}},
   "layer":[
    {"data":{"name":"i2"},"mark":{"type":"line","color":"#111","strokeWidth":1,"clip":true}},
    {"data":{"values":[{"t":600,"v":0,"lab":"imf 2"}]},"mark":{"type":"text","align":"left","baseline":"middle","dx":7,"fontSize":15.5,"color":"#222"},"encoding":{"text":{"field":"lab"}}}
   ]},
  {"width":284,"height":58,
   "encoding":{
    "x":{"field":"t","type":"quantitative","scale":{"domain":[0,600],"nice":false},"axis":{"values":[0,100,200,300,400,500,600],"labels":false,"title":null,"tickSize":{"condition":{"test":"datum.value % 200 !== 0","value":-4},"value":-6}}},
    "y":{"field":"v","type":"quantitative","scale":{"domain":[-0.015,0.015],"nice":false,"zero":false},"axis":{"values":[-0.015,-0.01,-0.005,0,0.005,0.01,0.015],"labelExpr":"abs(round(datum.value*1000)) % 10 === 0 ? replace(format(datum.value,'.2f'),'−','-') : ''","tickSize":{"condition":{"test":"abs(round(datum.value*1000)) % 10 !== 0","value":-3},"value":-6},"labelPadding":12,"title":null}}},
   "layer":[
    {"data":{"name":"i3"},"mark":{"type":"line","color":"#111","strokeWidth":1.2,"interpolate":"monotone","clip":true}},
    {"data":{"values":[{"t":600,"v":0,"lab":"imf 3"}]},"mark":{"type":"text","align":"left","baseline":"middle","dx":7,"fontSize":15.5,"color":"#222"},"encoding":{"text":{"field":"lab"}}}
   ]},
  {"width":284,"height":59,
   "encoding":{
    "x":{"field":"t","type":"quantitative","scale":{"domain":[0,600],"nice":false},"axis":{"values":[0,100,200,300,400,500,600],"labels":false,"title":null,"tickSize":{"condition":{"test":"datum.value % 200 !== 0","value":-4},"value":-6}}},
    "y":{"field":"v","type":"quantitative","scale":{"domain":[-0.015,0.015],"nice":false,"zero":false},"axis":{"values":[-0.015,-0.01,-0.005,0,0.005,0.01,0.015],"labelExpr":"abs(round(datum.value*1000)) % 10 === 0 ? replace(format(datum.value,'.2f'),'−','-') : ''","tickSize":{"condition":{"test":"abs(round(datum.value*1000)) % 10 !== 0","value":-3},"value":-6},"labelPadding":12,"title":"IMFs","titleX":-61,"titleY":58,"titleAngle":-90,"titleAlign":"center","titleBaseline":"middle","titleFontSize":17}}},
   "layer":[
    {"data":{"name":"i4"},"mark":{"type":"line","color":"#111","strokeWidth":1.2,"interpolate":"monotone","clip":true}},
    {"data":{"values":[{"t":600,"v":0,"lab":"imf 4"}]},"mark":{"type":"text","align":"left","baseline":"middle","dx":7,"fontSize":15.5,"color":"#222"},"encoding":{"text":{"field":"lab"}}}
   ]},
  {"width":284,"height":59,
   "encoding":{
    "x":{"field":"t","type":"quantitative","scale":{"domain":[0,600],"nice":false},"axis":{"values":[0,100,200,300,400,500,600],"labels":false,"title":null,"tickSize":{"condition":{"test":"datum.value % 200 !== 0","value":-4},"value":-6}}},
    "y":{"field":"v","type":"quantitative","scale":{"domain":[-0.015,0.015],"nice":false,"zero":false},"axis":{"values":[-0.015,-0.01,-0.005,0,0.005,0.01,0.015],"labelExpr":"abs(round(datum.value*1000)) % 10 === 0 ? replace(format(datum.value,'.2f'),'−','-') : ''","tickSize":{"condition":{"test":"abs(round(datum.value*1000)) % 10 !== 0","value":-3},"value":-6},"labelPadding":12,"title":null}}},
   "layer":[
    {"data":{"name":"i5"},"mark":{"type":"line","color":"#111","strokeWidth":1.3,"interpolate":"monotone","clip":true}},
    {"data":{"values":[{"t":600,"v":0,"lab":"imf 5"}]},"mark":{"type":"text","align":"left","baseline":"middle","dx":7,"fontSize":15.5,"color":"#222"},"encoding":{"text":{"field":"lab"}}}
   ]},
  {"width":284,"height":58,
   "encoding":{
    "x":{"field":"t","type":"quantitative","scale":{"domain":[0,600],"nice":false},"axis":{"values":[0,100,200,300,400,500,600],"labels":false,"title":null,"tickSize":{"condition":{"test":"datum.value % 200 !== 0","value":-4},"value":-6}}},
    "y":{"field":"v","type":"quantitative","scale":{"domain":[-0.015,0.015],"nice":false,"zero":false},"axis":{"values":[-0.015,-0.01,-0.005,0,0.005,0.01,0.015],"labelExpr":"abs(round(datum.value*1000)) % 10 === 0 ? replace(format(datum.value,'.2f'),'−','-') : ''","tickSize":{"condition":{"test":"abs(round(datum.value*1000)) % 10 !== 0","value":-3},"value":-6},"labelPadding":12,"title":null}}},
   "layer":[
    {"data":{"name":"i6"},"mark":{"type":"line","color":"#111","strokeWidth":1.3,"interpolate":"monotone","clip":true}},
    {"data":{"values":[{"t":600,"v":0,"lab":"imf 6"}]},"mark":{"type":"text","align":"left","baseline":"middle","dx":7,"fontSize":15.5,"color":"#222"},"encoding":{"text":{"field":"lab"}}}
   ]},
  {"width":284,"height":59,
   "encoding":{
    "x":{"field":"t","type":"quantitative","scale":{"domain":[0,600],"nice":false},"axis":{"values":[0,100,200,300,400,500,600],"labels":false,"title":null,"tickSize":{"condition":{"test":"datum.value % 200 !== 0","value":-4},"value":-6}}},
    "y":{"field":"v","type":"quantitative","scale":{"domain":[-0.015,0.015],"nice":false,"zero":false},"axis":{"values":[-0.015,-0.01,-0.005,0,0.005,0.01,0.015],"labelExpr":"abs(round(datum.value*1000)) % 10 === 0 ? replace(format(datum.value,'.2f'),'−','-') : ''","tickSize":{"condition":{"test":"abs(round(datum.value*1000)) % 10 !== 0","value":-3},"value":-6},"labelPadding":12,"title":null}}},
   "layer":[
    {"data":{"name":"i7"},"mark":{"type":"line","color":"#111","strokeWidth":1.3,"interpolate":"monotone","clip":true}},
    {"data":{"values":[{"t":600,"v":0,"lab":"imf 7"}]},"mark":{"type":"text","align":"left","baseline":"middle","dx":7,"fontSize":15.5,"color":"#222"},"encoding":{"text":{"field":"lab"}}}
   ]},
  {"width":284,"height":60,
   "encoding":{
    "x":{"field":"t","type":"quantitative","scale":{"domain":[0,600],"nice":false},"axis":{"values":[0,100,200,300,400,500,600],"labelExpr":"datum.value % 200 === 0 ? datum.label : ''","tickSize":{"condition":{"test":"datum.value % 200 !== 0","value":-4},"value":-6},"labelPadding":10,"title":"epoch /s","titleFontSize":17,"titlePadding":2}},
    "y":{"field":"v","type":"quantitative","scale":{"domain":[0.01,0.035],"nice":false,"zero":false},"axis":{"values":[0.01,0.015,0.02,0.025,0.03,0.035],"labelExpr":"round(datum.value*1000) % 10 === 0 ? format(datum.value,'.2f') : ''","tickSize":{"condition":{"test":"round(datum.value*1000) % 10 !== 0","value":-3},"value":-6},"labelPadding":12,"title":null}}},
   "layer":[
    {"data":{"name":"res"},"mark":{"type":"line","color":"#111","strokeWidth":1.3,"interpolate":"monotone","clip":true}},
    {"data":{"values":[{"t":600,"v":0.02,"lab":"residual"}]},"mark":{"type":"text","align":"left","baseline":"middle","dx":-11,"fontSize":15.5,"color":"#222"},"encoding":{"text":{"field":"lab"}}}
   ]}
 ]
}
]
}
